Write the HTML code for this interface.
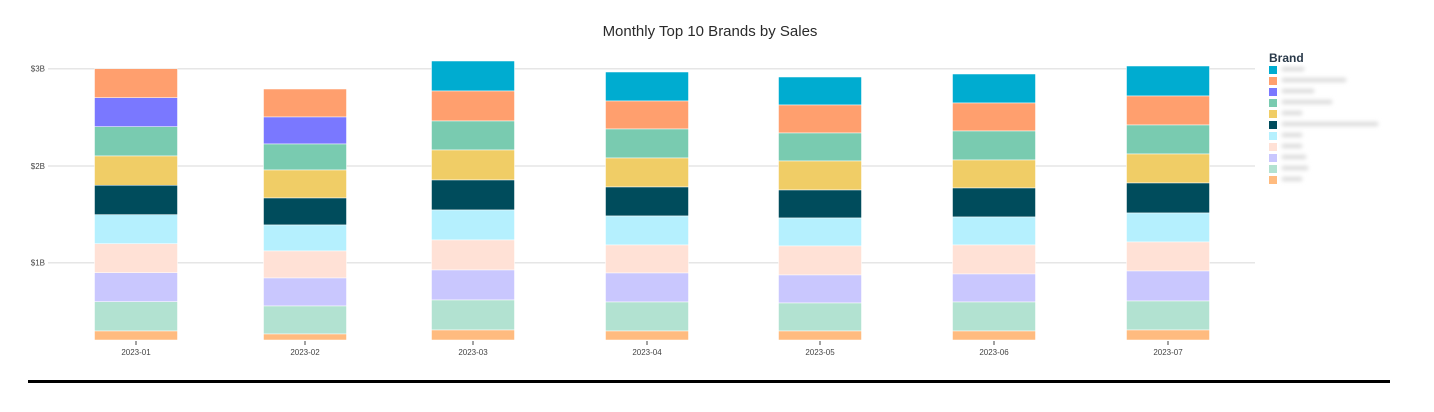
<!DOCTYPE html>
<html><head><meta charset="utf-8"><style>
body{margin:0;background:#fff;width:1434px;height:407px;overflow:hidden;font-family:"Liberation Sans",sans-serif}
</style></head><body>
<svg width="1434" height="407" xmlns="http://www.w3.org/2000/svg" font-family="Liberation Sans, sans-serif">
<defs><filter id="b"><feGaussianBlur stdDeviation="2"/></filter></defs>
<text x="710" y="36" text-anchor="middle" font-size="15" fill="#2a2a2a">Monthly Top 10 Brands by Sales</text>
<g stroke="#e6e6e6" stroke-width="1.5">
<line x1="48" x2="1255" y1="68.7" y2="68.7"/><line x1="48" x2="1255" y1="166" y2="166"/><line x1="48" x2="1255" y1="262.7" y2="262.7"/>
</g>
<g font-size="8" fill="#444" text-anchor="end">
<text x="45" y="71.5">$3B</text><text x="45" y="169">$2B</text><text x="45" y="265.5">$1B</text>
</g>
<g id="bars"></g>
<line x1="28" x2="1390" y1="381.5" y2="381.5" stroke="#000" stroke-width="3"/>
<text x="1269" y="62" font-size="12" font-weight="bold" fill="#2a3a4a">Brand</text>
<g id="leg"></g>
<g filter="url(#b)" fill="#d8d8d8">
<rect x="1282" y="67" width="22" height="4"/><rect x="1282" y="78" width="64" height="4"/><rect x="1282" y="89" width="32" height="4"/>
<rect x="1282" y="100" width="50" height="4"/><rect x="1282" y="111" width="20" height="4"/><rect x="1282" y="122" width="96" height="4"/>
<rect x="1282" y="133" width="20" height="4"/><rect x="1282" y="144" width="20" height="4"/><rect x="1282" y="155" width="24" height="4"/>
<rect x="1282" y="166" width="26" height="4"/><rect x="1282" y="177" width="20" height="4"/>
</g>
</svg>
<script>
const C={t:"#00acd0",o:"#ff9f6e",p:"#7a78ff",g:"#79cbb0",y:"#f0cd66",d:"#004c5c",c:"#b5f0fe",pe:"#ffe1d6",l:"#c9c7fe",m:"#b2e2d1",lo:"#ffbb7f"};
const A=["o","p","g","y","d","c","pe","l","m","lo"],B=["t","o","g","y","d","c","pe","l","m","lo"];
const data=[[136,A,[68.7,97.7,126.7,156,185.3,214.7,243.7,272.7,301.7,331,340]],
[305,A,[89,117,144,170,198,225,251,278,306,334,340]],
[473,B,[61,91,121,150,180,210,240,270,300,330,340]],
[647,B,[72,101,129,158,187,216,245,273,302,331,340]],
[820,B,[77,105,133,161,190,218,246,275,303,331,340]],
[994,B,[74,103,131,160,188,217,245,274,302,331,340]],
[1168,B,[66,96,125,154,183,213,242,271,301,330,340]]];
let s="";
data.forEach((d,i)=>{const[x,cols,ys]=d;
for(let k=0;k<10;k++)s+=`<rect x="${x-41.5}" y="${ys[k]}" width="83" height="${ys[k+1]-ys[k]}" fill="${C[cols[k]]}" stroke="#fff" stroke-width="0.5"/>`;
s+=`<line x1="${x}" x2="${x}" y1="341" y2="345" stroke="#444"/><text x="${x}" y="355" font-size="8" fill="#444" text-anchor="middle">2023-0${i+1}</text>`;});
document.getElementById("bars").innerHTML=s;
let l="";["t","o","p","g","y","d","c","pe","l","m","lo"].forEach((k,i)=>{l+=`<rect x="1269" y="${66+i*11}" width="8" height="8" fill="${C[k]}"/>`});
document.getElementById("leg").innerHTML=l;
</script>
</body></html>
